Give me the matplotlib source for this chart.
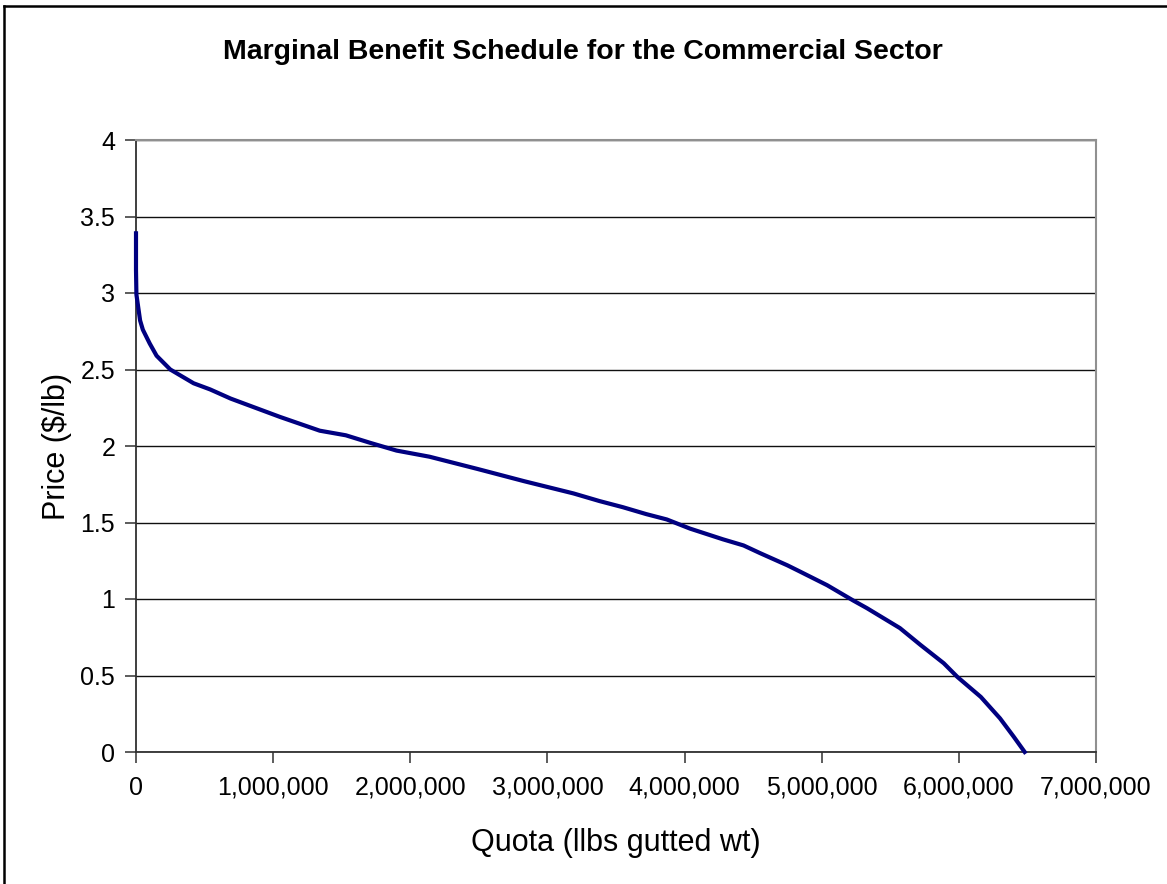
import matplotlib
matplotlib.use('Agg')
import matplotlib.pyplot as plt
from matplotlib.lines import Line2D
from matplotlib.ticker import FuncFormatter, MultipleLocator

plt.rcParams['font.family'] = ['Liberation Sans', 'DejaVu Sans']

# Marginal benefit schedule (lbs, $/lb)
quota = [0, 0, 3000, 30000, 50000, 100000, 150000, 250000, 420000, 540000,
         690000, 900000, 1050000, 1340000, 1530000, 1710000, 1900000, 2140000,
         2490000, 2830000, 3190000, 3380000, 3550000, 3720000, 3870000, 4040000,
         4280000, 4430000, 4550000, 4750000, 4840000, 5040000, 5230000, 5330000,
         5570000, 5720000, 5890000, 5990000, 6160000, 6300000, 6400000, 6480000]
price = [3.39, 3.15, 2.99, 2.82, 2.76, 2.67, 2.59, 2.50, 2.41, 2.37,
         2.31, 2.24, 2.19, 2.10, 2.07, 2.02, 1.97, 1.93,
         1.85, 1.77, 1.69, 1.64, 1.60, 1.555, 1.52, 1.46,
         1.39, 1.35, 1.30, 1.22, 1.18, 1.09, 0.99, 0.94,
         0.81, 0.70, 0.58, 0.49, 0.36, 0.22, 0.10, 0.0]

W, H = 1167, 884
fig = plt.figure(figsize=(W / 100, H / 100), dpi=100)
ax = fig.add_axes([136 / W, 1 - 752 / H, 960 / W, 612 / H])

# not clipped, so the vertical run at x=0 keeps its full width like Excel
ax.plot(quota, price, color='#000080', lw=3.0, solid_joinstyle='round',
        clip_on=False, zorder=3)

ax.set_xlim(0, 7000000)
ax.set_ylim(0, 4)
ax.xaxis.set_major_locator(MultipleLocator(1000000))
ax.yaxis.set_major_locator(MultipleLocator(0.5))
ax.xaxis.set_major_formatter(FuncFormatter(lambda v, p: f"{v:,.0f}"))
ax.yaxis.set_major_formatter(FuncFormatter(lambda v, p: f"{v:g}"))
ax.grid(axis='y', color='#101010', lw=1.0)
ax.set_axisbelow(True)

for s in ['left', 'bottom']:
    ax.spines[s].set_color('#303030')
    ax.spines[s].set_linewidth(1.3)
for s in ['top', 'right']:
    ax.spines[s].set_color('#909090')
    ax.spines[s].set_linewidth(1.5)

ax.tick_params(direction='out', length=8, width=1.1, color='#303030',
               labelsize=18)
ax.tick_params(axis='x', pad=9)
ax.tick_params(axis='y', pad=7)

ax.set_xlabel('Quota (llbs gutted wt)', fontsize=22, va='center')
ax.xaxis.set_label_coords(0.5, (752 - 843) / 612)
ax.set_ylabel('Price ($/lb)', fontsize=22, va='center')
ax.yaxis.set_label_coords((57 - 136) / 960, 0.5)
fig.text(583 / W, 1 - 52 / H, 'Marginal Benefit Schedule for the Commercial Sector',
         ha='center', va='center', fontsize=20.5, fontweight='bold')

# chart area frame (only left and top edges are visible in the reference)
fig.add_artist(Line2D([4 / W, 4 / W], [0, 1 - 6 / H], transform=fig.transFigure,
                      color='black', lw=1.8))
fig.add_artist(Line2D([4 / W, 1], [1 - 6 / H, 1 - 6 / H], transform=fig.transFigure,
                      color='black', lw=1.8))

fig.savefig('out.png', dpi=100)
